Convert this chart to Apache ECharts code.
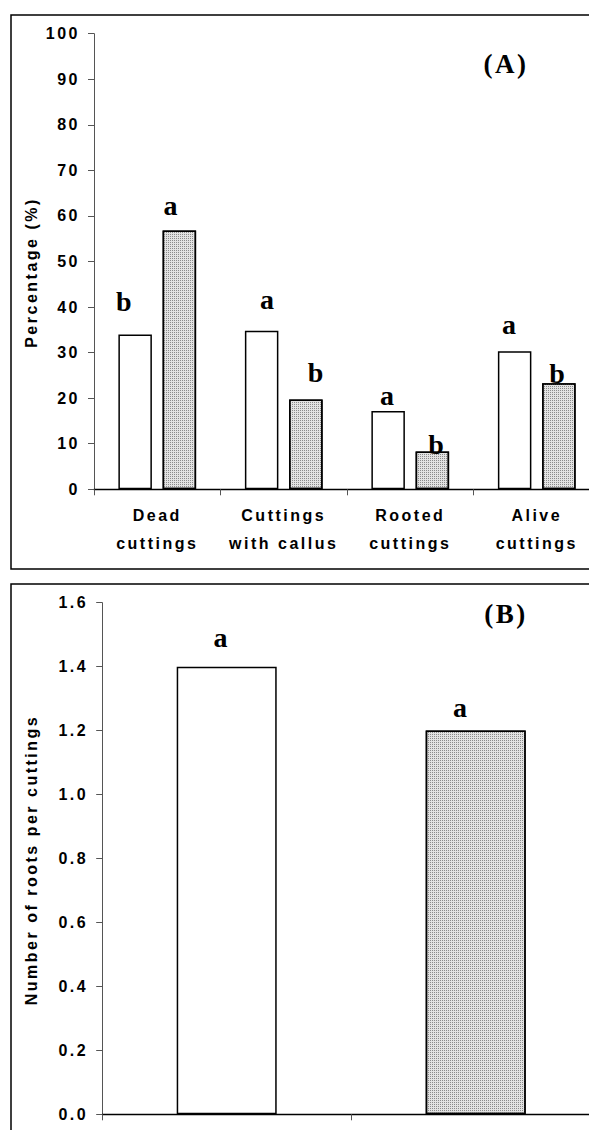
<!DOCTYPE html>
<html>
<head>
<meta charset="utf-8">
<script src="https://cdn.jsdelivr.net/npm/echarts@6/dist/echarts.min.js"></script>
<style>
html,body{margin:0;padding:0;background:#fff;}
#c{width:589px;height:1130px;letter-spacing:2.5px;}
</style>
</head>
<body>
<div id="c"></div>
<script>
// ---------- data ----------
const categoriesA = ['Dead\ncuttings', 'Cuttings\nwith callus', 'Rooted\ncuttings', 'Alive\ncuttings'];
const seriesNamesA = ['Treatment 1', 'Treatment 2'];
const valuesA1 = [34.0, 34.8, 17.2, 30.3];
const valuesA2 = [56.8, 19.7, 8.3, 23.3];
const lettersA1 = ['b', 'a', 'a', 'a'];
const lettersA2 = ['a', 'b', 'b', 'b'];
const yTicksA = [0, 10, 20, 30, 40, 50, 60, 70, 80, 90, 100];

const categoriesB = ['Treatment 1', 'Treatment 2'];
const valuesB = [1.4, 1.2];
const lettersB = ['a', 'a'];
const yTicksB = ['0.0', '0.2', '0.4', '0.6', '0.8', '1.0', '1.2', '1.4', '1.6'];

// ---------- layout / style ----------
const SANS = "'Liberation Sans', Arial, sans-serif";
const SERIF = "'Liberation Serif', 'Times New Roman', serif";
const offA1 = [[-10, -19], [6.5, -17], [0, -1], [-4.5, -13]];
const offA2 = [[-7.5, -11], [11, -13.5], [5, 7], [-0.5, 4.5]];
const offB = [[-5, -15], [-14.5, -9]];
const grayFill = {
  color: '#e2e2e2',
  decal: {symbol: 'rect', symbolSize: 1, color: '#8a8a8a', dashArrayX: [1, 1], dashArrayY: [1, 1], rotation: 0}
};

function yAxisCfg(ticks, grid, name, gap, pad, fmt) {
  const nums = ticks.map(Number);
  return {
    type: 'value', gridIndex: grid,
    min: nums[0], max: nums[nums.length - 1], interval: +(nums[1] - nums[0]).toFixed(6),
    axisLine: {show: true, lineStyle: {color: '#555', width: 1}},
    axisTick: {show: true, length: 6, inside: false, lineStyle: {color: '#555', width: 1}},
    splitLine: {show: false},
    axisLabel: {margin: 14, color: '#000', fontSize: 16, fontWeight: 'bold', fontFamily: SANS, formatter: fmt},
    name: name, nameLocation: 'middle', nameRotate: 90, nameGap: gap, nameMoveOverlap: false,
    nameTextStyle: {color: '#000', fontSize: 16, fontWeight: 'bold', fontFamily: SANS, padding: pad}
  };
}

const letterLabel = (letters) => ({
  show: true, position: 'top', distance: 0,
  fontFamily: SERIF, fontWeight: 'bold', fontSize: 28, color: '#000',
  formatter: p => letters[p.dataIndex]
});

const option = {
  animation: false,
  backgroundColor: '#fff',
  grid: [
    {left: 94, top: 33.7, width: 506, height: 455.6, outerBoundsMode: 'none'},
    {left: 102.2, top: 602.7, width: 498, height: 511.6, outerBoundsMode: 'none'}
  ],
  xAxis: [
    {
      type: 'category', gridIndex: 0, data: categoriesA,
      axisLine: {show: true, lineStyle: {color: '#000', width: 1.3}},
      axisTick: {show: true, length: 6, lineStyle: {color: '#555'}},
      splitLine: {show: false},
      axisLabel: {interval: 0, margin: 12, color: '#000', fontSize: 16, fontWeight: 'bold', fontFamily: SANS, lineHeight: 28}
    },
    {
      type: 'category', gridIndex: 1, data: categoriesB,
      axisLine: {show: true, lineStyle: {color: '#000', width: 1.3}},
      axisTick: {show: true, length: 6, lineStyle: {color: '#555'}},
      splitLine: {show: false},
      axisLabel: {show: false}
    }
  ],
  yAxis: [
    yAxisCfg(yTicksA, 0, 'Percentage (%)', 55, [0, 22, 0, 0], v => String(Math.round(v))),
    yAxisCfg(yTicksB, 1, 'Number of roots per cuttings', 63, [0, 3, 0, 0], v => v.toFixed(1))
  ],
  series: [
    {
      type: 'bar', name: seriesNamesA[0], xAxisIndex: 0, yAxisIndex: 0,
      barWidth: 33.5, barGap: '32%',
      itemStyle: {color: '#fff', borderColor: '#000', borderWidth: 1.5},
      label: letterLabel(lettersA1),
      data: valuesA1.map((v, i) => ({value: v, label: {offset: offA1[i]}}))
    },
    {
      type: 'bar', name: seriesNamesA[1], xAxisIndex: 0, yAxisIndex: 0,
      barWidth: 33.5, barGap: '32%',
      itemStyle: Object.assign({borderColor: '#000', borderWidth: 1.5}, grayFill),
      label: letterLabel(lettersA2),
      data: valuesA2.map((v, i) => ({value: v, label: {offset: offA2[i]}}))
    },
    {
      type: 'bar', name: 'Roots', xAxisIndex: 1, yAxisIndex: 1,
      barWidth: 100,
      label: letterLabel(lettersB),
      data: valuesB.map((v, i) => ({
        value: v,
        label: {offset: offB[i]},
        itemStyle: i === 0
          ? {color: '#fff', borderColor: '#000', borderWidth: 1.5}
          : Object.assign({borderColor: '#000', borderWidth: 1.5}, grayFill)
      }))
    }
  ],
  graphic: [
    {type: 'rect', z: -1, shape: {x: 11, y: 15, width: 620, height: 554}, style: {fill: 'none', stroke: '#000', lineWidth: 1.5}},
    {type: 'rect', z: -1, shape: {x: 11, y: 584, width: 620, height: 580}, style: {fill: 'none', stroke: '#000', lineWidth: 1.5}},
    {type: 'text', x: 506, y: 64, style: {text: '(A)', font: "bold 27px 'Liberation Serif', serif", fill: '#000', align: 'center', verticalAlign: 'middle'}},
    {type: 'text', x: 506, y: 614, style: {text: '(B)', font: "bold 27px 'Liberation Serif', serif", fill: '#000', align: 'center', verticalAlign: 'middle'}}
  ]
};

const chart = echarts.init(document.getElementById('c'), null, {renderer: 'svg', width: 589, height: 1130});
chart.setOption(option);
</script>
</body>
</html>
